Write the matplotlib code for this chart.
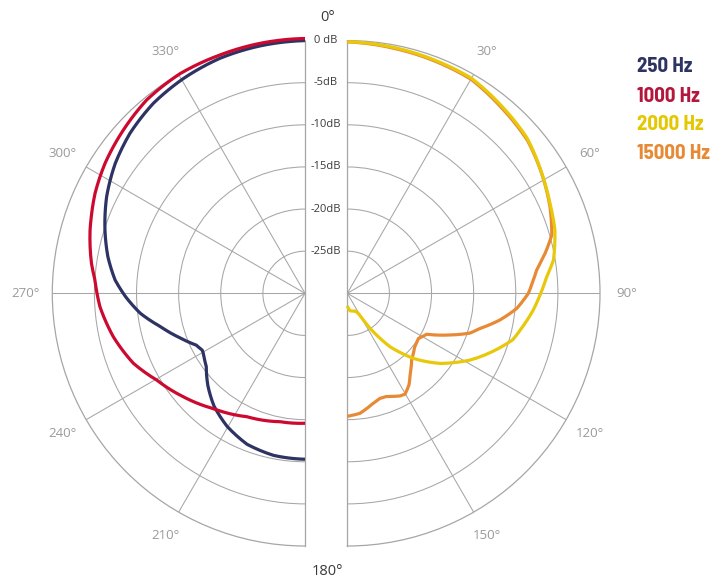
import numpy as np
import matplotlib
matplotlib.use("Agg")
import matplotlib.pyplot as plt

# ---------------- data (angle in degrees, clockwise from top; level in dB) -------------
ang_250 = [180, 191, 201, 210.4, 218.9, 226.5, 233.4, 239.5, 241.1, 244.5, 250.2, 257, 263.1,
           268.9, 274, 280.5, 287.5, 296, 304.4, 312.4, 321.4, 330.5, 340.1, 349.7, 360]
db_250 = [-10.3, -10.4, -10.8, -11.7, -12.8, -14.1, -15.4, -16.0, -16.05, -15.7, -14.3, -12.4,
          -10.3, -8.7, -7.4, -6.2, -5.1, -3.8, -2.7, -1.85, -1.14, -0.7, -0.33, -0.15, 0.0]

ang_1000 = [180, 191, 205.3, 218.6, 229.6, 239.7, 247.8, 257.2, 266.3, 273.6, 278, 286.4,
            289.7, 295.5, 303, 312, 320.7, 330.4, 340.4, 349.8, 360]
db_1000 = [-14.57, -14.47, -13.8, -12.5, -11.04, -9.6, -8.0, -6.67, -5.6, -5.02, -4.4, -3.4,
           -3.05, -2.39, -1.69, -1.0, -0.33, 0.0, 0.04, 0.15, 0.25]

ang_2000 = [0, 11, 21.4, 30, 39.6, 49.2, 59, 66, 73, 80.8, 85.2, 90, 95.1, 101.3, 105.7,
            118.5, 123.2, 127.1, 130.7, 134.6, 137.8, 141.4, 144, 147, 149, 151.2, 156, 171, 180]
db_2000 = [-0.13, -0.3, -0.45, -0.52, -1.2, -1.8, -2.95, -3.67, -4.23, -5.2, -6.24, -7.04,
           -7.83, -8.9, -9.6, -13.4, -14.96, -16.2, -17.56, -19.0, -20.4, -21.9, -23.4,
           -25.05, -26.3, -27.3, -27.7, -27.9, -28.5]

ang_15000 = [0, 11, 21.4, 30, 39.6, 49.7, 59.3, 66.9, 74.1, 78.6, 80.3, 83, 85.9, 90, 95.1,
             99.9, 104.8, 108, 112.1, 117.3, 122.4, 128.3, 132.3, 136, 141.9, 146, 150.2,
             152.8, 159.1, 162.7, 166.7, 174, 180]
db_15000 = [-0.15, -0.4, -0.55, -0.65, -1.35, -1.95, -3.0, -3.84, -4.76, -6.05, -6.59, -7.35,
            -7.86, -8.5, -9.8, -11.6, -13.7, -14.7, -16.85, -19.4, -20.0, -19.8, -19.4, -19.0,
            -17.9, -16.9, -16.2, -16.3, -16.9, -16.94, -16.6, -15.67, -15.4]

ring_levels = [0, -5, -10, -15, -20, -25]
ring_labels = ["0 dB", "-5dB", "-10dB", "-15dB", "-20dB", "-25dB"]
left_angles = [210, 240, 270, 300, 330]
right_angles = [30, 60, 90, 120, 150]
legend_labels = ["250 Hz", "1000 Hz", "2000 Hz", "15000 Hz"]

# ---------------- style ----------------
C_250 = "#2d3363"
C_1000 = "#cc0a30"
C_2000 = "#e8c80a"
C_15000 = "#e88a35"
LEG_COLORS = ["#2e3462", "#b3173b", "#e5c700", "#e68a35"]
GRID = "#a6a6a6"
LBL_GRAY = "#9a9a9a"
DARK = "#3a3a3a"

W, H = 727, 579
fig = plt.figure(figsize=(W / 100, H / 100), dpi=100)
fig.patch.set_facecolor("white")

R = 252.7          # radius of the 0 dB ring in pixels
CY = 293.3         # y (from top) of the centres
side = 2 * R


def add_half(cx, frac, tmin, tmax):
    left = cx - frac * side
    bottom = (H - CY) - R
    ax = fig.add_axes([left / W, bottom / H, side / W, side / H], projection="polar")
    ax.set_theta_zero_location("N")
    ax.set_theta_direction(-1)
    ax.set_thetamin(tmin)
    ax.set_thetamax(tmax)
    ax.set_rlim(-30, 0)
    ax.set_xticks(np.deg2rad(np.arange(tmin, tmax + 1, 30)))
    ax.set_yticks([-25, -20, -15, -10, -5])
    ax.set_xticklabels([])
    ax.set_yticklabels([])
    ax.tick_params(length=0)
    ax.grid(True, color=GRID, lw=0.75)
    for name, sp in ax.spines.items():
        sp.set_color(GRID)
        sp.set_linewidth(0.9)
    ax.patch.set_alpha(0)
    return ax


axL = add_half(305.0, 0.75, 180, 360)
axR = add_half(347.3, 0.25, 0, 180)

lw = 2.3


def curve(ax, ang, db, col, z):
    ln, = ax.plot(np.deg2rad(ang), db, color=col, lw=lw, clip_on=False,
                  solid_joinstyle="round", solid_capstyle="butt", zorder=z)
    try:
        ln.get_path()._interpolation_steps = 12
    except Exception:
        pass
    return ln


curve(axL, ang_250, db_250, C_250, 3)
curve(axL, ang_1000, db_1000, C_1000, 4)
curve(axR, ang_15000, db_15000, C_15000, 3)
curve(axR, ang_2000, db_2000, C_2000, 4)

lblfont = ["Open Sans", "DejaVu Sans"]

for lev, txt in zip(ring_levels, ring_labels):
    axL.annotate(txt, xy=(2 * np.pi, lev), xytext=(15.1, 0), textcoords="offset points",
                 ha="center", va="center", fontsize=8, color=DARK, family=lblfont,
                 annotation_clip=False)

for a in left_angles:
    axL.text(np.deg2rad(a), 3.2, f"{a}°", ha="center", va="center", fontsize=9.5,
             color=LBL_GRAY, family=lblfont, clip_on=False)
for a in right_angles:
    axR.text(np.deg2rad(a), 3.2, f"{a}°", ha="center", va="center", fontsize=9.5,
             color=LBL_GRAY, family=lblfont, clip_on=False)

axL.annotate("0°", xy=(2 * np.pi, 0), xytext=(16.5, 16.3), textcoords="offset points",
             ha="center", va="center", fontsize=10.5, color=DARK, family=lblfont,
             annotation_clip=False)
axL.annotate("180°", xy=(np.pi, 0), xytext=(16.5, -18.7), textcoords="offset points",
             ha="center", va="center", fontsize=10.5, color=DARK, family=lblfont,
             annotation_clip=False)

leg_y = [66.7, 96.7, 125.0, 153.3]
for txt, col, y in zip(legend_labels, LEG_COLORS, leg_y):
    fig.text(636.7 / W, 1 - y / H, txt, ha="left", va="center", fontsize=15,
             fontweight="bold", color=col,
             family=["Barlow Semi Condensed", "Barlow Condensed", "DejaVu Sans"])

fig.savefig("out.png", dpi=100, facecolor="white")
